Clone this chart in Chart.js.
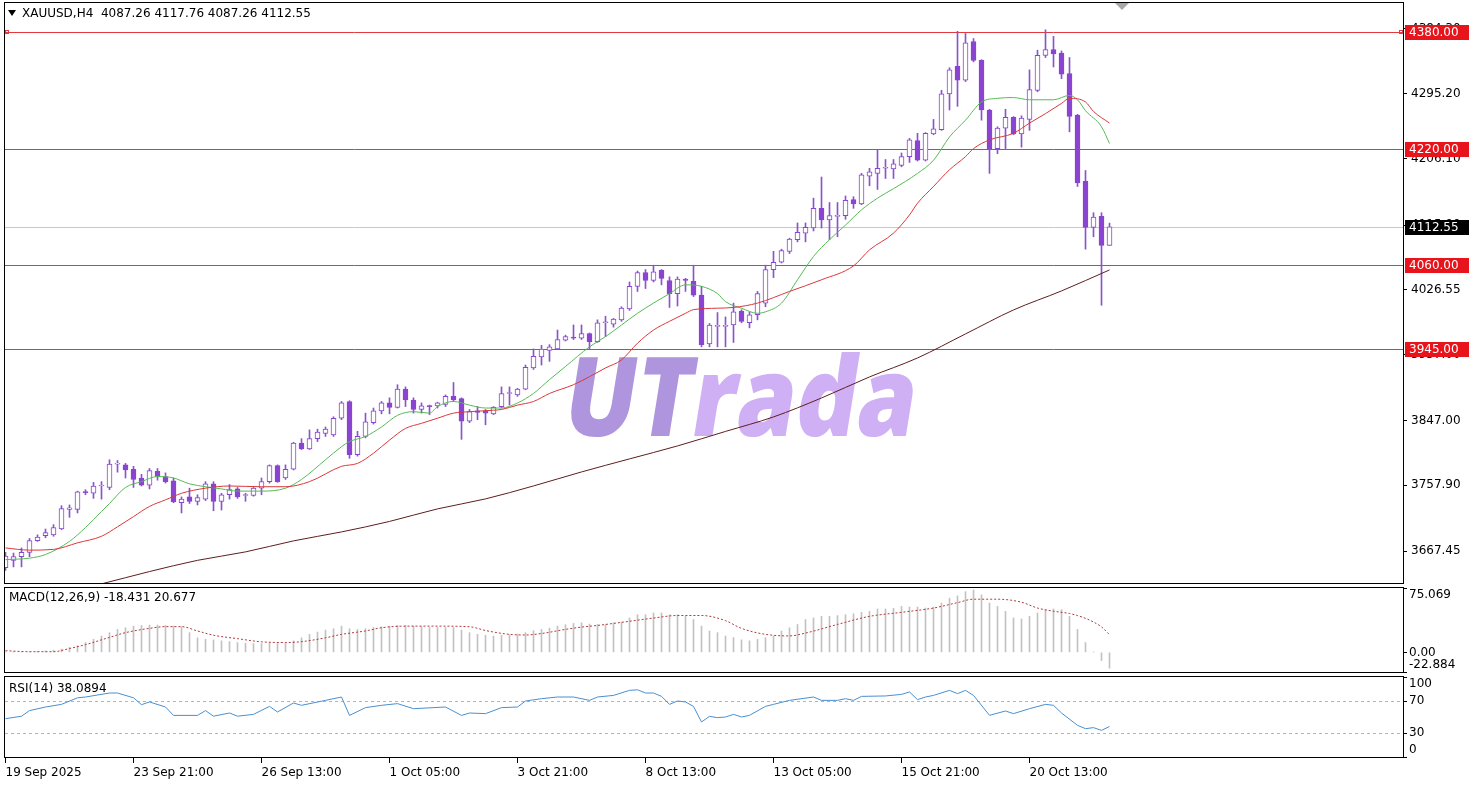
<!DOCTYPE html>
<html>
<head>
<meta charset="utf-8">
<script src="https://cdn.jsdelivr.net/npm/chart.js@4.4.1/dist/chart.umd.min.js"></script>
<style>
  html, body { margin: 0; padding: 0; background: #fff; }
  #wrap { position: relative; width: 1477px; height: 787px; overflow: hidden; background: #fff; }
  canvas { position: absolute; left: 0; }
  #mainChart { top: 0; }
  #macdChart { top: 585px; }
  #rsiChart { top: 675px; }
</style>
</head>
<body>
<div id="wrap">
  <canvas id="mainChart" width="1477" height="585"></canvas>
  <canvas id="macdChart" width="1477" height="90"></canvas>
  <canvas id="rsiChart" width="1477" height="112"></canvas>
</div>
<script>
const symbol = "XAUUSD,H4";

// H4 candles, 19 Sep 05:00 .. 22 Oct
const opens = [
  3645, 3655, 3660, 3666, 3682, 3689, 3690, 3698, 3725, 3725,
  3749, 3747, 3757, 3755, 3787, 3786, 3780, 3768, 3758, 3777,
  3770, 3764, 3734, 3742, 3736, 3739, 3760, 3736, 3745, 3753,
  3744, 3744, 3754, 3763, 3785, 3768, 3780, 3816, 3808, 3822,
  3829, 3827, 3850, 3873, 3800, 3825, 3844, 3860, 3871, 3865,
  3890, 3875, 3862, 3867, 3867, 3869, 3880, 3877, 3846, 3860,
  3860, 3856, 3866, 3884, 3882, 3890, 3919, 3934, 3943, 3945,
  3957, 3961, 3960, 3966, 3955, 3981, 3979, 3985, 4000, 4031,
  4050, 4039, 4053, 4039, 4021, 4041, 4038, 4019, 3952, 3976,
  3976, 3978, 3997, 3981, 3992, 4008, 4054, 4064, 4079, 4095,
  4104, 4111, 4138, 4122, 4127, 4128, 4150, 4144, 4182, 4186,
  4193, 4192, 4197, 4209, 4231, 4204, 4240, 4246, 4295, 4333,
  4314, 4367, 4341, 4273, 4220, 4248, 4263, 4240, 4260, 4300,
  4348, 4356, 4351, 4323, 4266, 4175, 4112, 4127, 4087.26
];
const highs = [
  3666, 3665, 3672, 3685, 3690, 3698, 3704, 3730, 3731, 3750,
  3752, 3762, 3763, 3793, 3792, 3788, 3784, 3773, 3781, 3781,
  3775, 3768, 3742, 3754, 3745, 3763, 3763, 3747, 3759, 3755,
  3747, 3755, 3768, 3786, 3786, 3786, 3817, 3822, 3834, 3835,
  3838, 3852, 3873, 3874, 3832, 3857, 3864, 3873, 3878, 3896,
  3893, 3878, 3871, 3868, 3872, 3882, 3899, 3878, 3862, 3866,
  3862, 3866, 3893, 3893, 3891, 3923, 3945, 3950, 3951, 3971,
  3964, 3978, 3978, 3967, 3985, 3990, 3987, 4003, 4037, 4052,
  4054, 4060, 4054, 4044, 4044, 4042, 4060, 4031, 3980, 3995,
  3989, 4008, 3999, 3996, 4024, 4060, 4079, 4082, 4097, 4118,
  4118, 4152, 4181, 4146, 4146, 4155, 4154, 4186, 4193, 4219,
  4205, 4205, 4214, 4234, 4241, 4242, 4260, 4300, 4331, 4381,
  4378, 4371, 4342, 4274, 4250, 4274, 4264, 4265, 4328, 4355,
  4383, 4374, 4354, 4345, 4267, 4190, 4132, 4132, 4117.76
];
const lows = [
  3641, 3646, 3646, 3660, 3681, 3686, 3688, 3697, 3714, 3720,
  3745, 3740, 3739, 3752, 3776, 3768, 3755, 3757, 3753, 3765,
  3761, 3734, 3720, 3733, 3731, 3737, 3723, 3724, 3739, 3740,
  3736, 3743, 3745, 3761, 3762, 3766, 3779, 3807, 3807, 3818,
  3825, 3825, 3848, 3795, 3798, 3823, 3842, 3856, 3856, 3864,
  3866, 3857, 3857, 3855, 3864, 3866, 3873, 3821, 3844, 3848,
  3841, 3855, 3864, 3868, 3880, 3889, 3917, 3923, 3928, 3944,
  3956, 3958, 3958, 3944, 3954, 3962, 3975, 3983, 3998, 4024,
  4028, 4037, 4033, 4002, 4004, 4024, 4017, 3948, 3948, 3948,
  3948, 3954, 3981, 3974, 3985, 4003, 4043, 4063, 4076, 4092,
  4092, 4107, 4111, 4095, 4099, 4123, 4138, 4143, 4169, 4164,
  4179, 4179, 4195, 4201, 4203, 4203, 4239, 4245, 4273, 4278,
  4312, 4339, 4259, 4186, 4213, 4220, 4239, 4222, 4245, 4298,
  4345, 4332, 4316, 4243, 4168, 4082, 4099, 4005, 4087.26
];
const closes = [
  3661, 3660, 3666, 3682, 3687, 3693, 3700, 3726, 3727, 3749,
  3748, 3757, 3758, 3787, 3788, 3779, 3766, 3758, 3778, 3770,
  3763, 3735, 3739, 3736, 3741, 3760, 3736, 3745, 3752, 3742,
  3745, 3754, 3763, 3785, 3763, 3780, 3816, 3808, 3822, 3831,
  3835, 3850, 3871, 3800, 3825, 3845, 3860, 3871, 3865, 3890,
  3875, 3862, 3867, 3866, 3871, 3880, 3875, 3846, 3859, 3858,
  3857, 3865, 3884, 3885, 3890, 3920, 3935, 3945, 3948, 3958,
  3962, 3960, 3966, 3955, 3981, 3982, 3986, 4001, 4031, 4050,
  4039, 4051, 4042, 4021, 4041, 4039, 4019, 3951, 3978, 3977,
  3977, 3996, 3983, 3992, 4021, 4054, 4064, 4080, 4096, 4105,
  4112, 4138, 4122, 4128, 4128, 4149, 4144, 4184, 4188, 4193,
  4194, 4199, 4209, 4232, 4204, 4241, 4247, 4295, 4328, 4314,
  4365, 4341, 4273, 4220, 4248, 4263, 4240, 4262, 4301, 4348,
  4356, 4350, 4322, 4264, 4173, 4112, 4126, 4087.26, 4112.55
];

// moving averages: [bar index, price]
const maFast = [
  [0, 3656], [3, 3658], [5, 3663], [8, 3681], [10, 3700], [12, 3722], [13, 3733],
  [15, 3755], [17, 3763], [19, 3770], [21, 3768], [23, 3760], [25, 3756], [27, 3753],
  [29, 3750], [32, 3750], [35, 3754], [37, 3766], [40, 3793], [42, 3811], [43, 3818],
  [45, 3825], [47, 3838], [49, 3854], [51, 3859], [53, 3857], [54, 3866], [56, 3873],
  [58, 3868], [60, 3864], [62, 3864], [64, 3871], [66, 3884], [68, 3903], [70, 3921],
  [73, 3948], [75, 3962], [77, 3978], [79, 3994], [81, 4008], [83, 4021], [85, 4033],
  [87, 4031], [89, 4021], [90, 4010], [92, 4001], [94, 3994], [95, 3996], [97, 4008],
  [99, 4040], [101, 4072], [103, 4095], [105, 4115], [107, 4136], [109, 4152], [111, 4165],
  [114, 4186], [116, 4204], [118, 4236], [120, 4259], [122, 4284], [124, 4289], [126, 4290],
  [128, 4287], [131, 4287], [133, 4293], [134, 4287], [135, 4272], [137, 4250], [138, 4227]
];
const maMid = [
  [0, 3672], [3, 3669], [6, 3670], [9, 3679], [12, 3688], [14, 3701], [16, 3715],
  [18, 3729], [20, 3738], [22, 3747], [25, 3754], [28, 3757], [32, 3756], [35, 3756],
  [38, 3763], [42, 3784], [44, 3788], [46, 3802], [48, 3820], [50, 3836], [52, 3843],
  [54, 3850], [56, 3857], [58, 3859], [61, 3861], [62, 3862], [64, 3868], [66, 3873],
  [68, 3884], [71, 3896], [73, 3907], [75, 3919], [77, 3930], [79, 3953], [81, 3971],
  [83, 3983], [85, 3994], [86, 3999], [89, 4001], [91, 4002], [94, 4008], [98, 4024],
  [102, 4040], [106, 4059], [108, 4081], [111, 4104], [113, 4129], [114, 4145], [116, 4168],
  [118, 4191], [120, 4209], [121, 4220], [123, 4232], [126, 4241], [128, 4255], [130, 4268],
  [132, 4282], [133, 4289], [135, 4284], [136, 4271], [138, 4255]
];
const maSlow = [
  [6, 3607], [12, 3622.7], [18, 3639.6], [24, 3655], [30, 3666.6], [36, 3681.7],
  [42, 3694], [48, 3708.4], [54, 3725.6], [60, 3739.3], [66, 3757.1], [72, 3776.3],
  [78, 3794.2], [84, 3812], [90, 3831.9], [96, 3851.8], [102, 3877.8], [108, 3906.7],
  [114, 3932.7], [120, 3965.7], [126, 3998.6], [132, 4024.7], [138, 4053.5]
];

const priceTicks = [4384.30, 4295.20, 4206.10, 4115.00, 4026.55, 3937.00, 3847.00, 3757.90, 3667.45];
const levels = [4380, 4220, 4060, 3945];

// MACD(12,26,9) main as histogram, one per bar
const macdMain = [
  0.4, 0.3, 0.5, 0.8, 1.2, 1.8, 2.6, 3.8, 5.7, 7.7,
  11.5, 15.3, 19, 23, 26.8, 28.7, 30.6, 31.4, 31.8, 31.8,
  31.4, 30.6, 29.9, 23, 17, 15.3, 14.5, 13.4, 12.6, 11.5,
  10.7, 10.3, 10.3, 10.7, 10.3, 10.7, 13.4, 17, 21, 23.7,
  26, 27.6, 30.6, 27.6, 26.8, 27.6, 29, 29.9, 30.6, 31.4,
  31.4, 30.6, 29.9, 29, 29, 29, 29, 26, 23, 21,
  20, 19, 20, 20.7, 21.4, 23, 25.3, 26.8, 28.3, 30.6,
  32.2, 33.7, 34.5, 33, 32.5, 32.5, 34.5, 35.2, 40.2, 44,
  44, 46, 46, 44, 44, 42, 38.3, 30.6, 24.9, 23,
  19, 17.2, 14.6, 13.4, 15.3, 17.2, 19, 24.9, 28.7, 32.5,
  38.3, 40.2, 42, 42, 42.9, 44, 45, 46.7, 47.9, 50.6,
  50.6, 51.3, 53.6, 52.9, 52.9, 51.7, 52.9, 57.5, 63.2, 65.9,
  70.8, 72.8, 67, 57.5, 53.6, 47.9, 40.2, 39, 42, 46,
  49.8, 50.6, 49.8, 42, 26.8, 11.5, 0.5, -9.6, -18.431
];
const macdSignal = [
  [0, 1.9], [3, 0.8], [6, 0.8], [8, 4.5], [10, 9], [13, 17.5], [15, 23], [18, 28],
  [20, 30], [22, 30], [24, 25], [26, 20], [29, 16], [32, 12.3], [35, 11.5], [37, 12.5],
  [40, 17], [42, 21], [45, 25], [47, 28.7], [50, 30.6], [54, 30.6], [58, 29.9], [60, 25.5],
  [63, 21], [65, 20.3], [67, 22], [70, 26.8], [72, 29.5], [74, 31.4], [77, 35], [81, 40],
  [84, 43], [87, 43], [90, 37], [92, 28], [95, 21], [98, 19.2], [100, 22.5], [104, 32.6],
  [108, 42], [112, 46.7], [116, 51.7], [119, 58], [121, 62], [124, 62], [127, 58.5],
  [129, 51.7], [131, 48], [133, 45.3], [134, 42.9], [135, 39.7], [136, 35.4], [137, 29.7],
  [138, 20.677]
];
const macdTicks = [75.069, 0, -22.884];
const macdTickLabels = ["75.069", "0.00", "-22.884"];

// RSI(14)
const rsiValues = [
  [0, 47.9], [2, 51], [3, 58], [5, 62.5], [7, 65.8], [9, 74], [10, 75], [13, 80], [14, 80],
  [16, 74], [17, 65.4], [18, 68.8], [20, 62.5], [21, 52], [24, 52], [25, 58], [26, 51],
  [28, 55], [29, 51], [31, 53.3], [33, 63.3], [34, 56.3], [36, 67.5], [37, 64.6], [40, 70.8],
  [42, 75], [43, 52], [45, 61.7], [47, 64.6], [49, 66.7], [51, 60.4], [55, 62.5], [57, 52],
  [58, 55], [60, 54.2], [62, 61.7], [64, 62.5], [65, 70], [67, 72.9], [69, 75], [71, 75],
  [73, 70.8], [74, 75], [76, 77], [78, 83.3], [79, 84], [80, 80], [81, 80], [82, 75.8],
  [83, 65.8], [84, 70], [85, 68.8], [86, 63.3], [87, 43.8], [88, 50.8], [89, 49.2], [90, 50],
  [91, 53.3], [92, 50], [93, 52.1], [95, 63.3], [96, 65.8], [98, 70.8], [101, 75], [102, 70.8],
  [104, 70.8], [105, 72.9], [106, 70.8], [107, 75.8], [110, 76.3], [112, 78.3], [113, 81.3],
  [114, 71.7], [115, 75], [116, 77], [118, 83.3], [119, 79.2], [120, 83.3], [121, 77],
  [123, 52.1], [125, 57.5], [126, 54.2], [128, 60.4], [130, 65.8], [131, 64.6], [132, 55],
  [134, 39.6], [135, 35.4], [136, 36.7], [137, 33.3], [138, 38.0894]
];
const rsiLevels = [70, 30];
const rsiTicks = [100, 70, 30, 0];

const xTickIdx = [0, 16, 32, 48, 64, 80, 96, 112, 128];
const xTickLabels = ["19 Sep 2025", "23 Sep 21:00", "26 Sep 13:00", "1 Oct 05:00", "3 Oct 21:00",
  "8 Oct 13:00", "13 Oct 05:00", "15 Oct 21:00", "20 Oct 13:00"];

// ---- look ----
Chart.defaults.font.family = "'DejaVu Sans', sans-serif";
Chart.defaults.font.size = 12;
Chart.defaults.color = "#000";

const N = closes.length;
const last = N - 1;
const X_MIN = -0.0625;
const X_MAX = X_MIN + 1398 / 8;
const AXIS_W = 74;
const PURPLE = "#8b43d1";
const WICK = "#8a55c9";

const pts = (arr) => arr.map(([x, y]) => ({ x, y }));
const fixY = (s) => { s.width = AXIS_W; s.paddingTop = 0; s.paddingBottom = 0; };

function edgeLabel(v, i, n, txt) {
  if (i === 0) return ["", txt];
  if (i === n - 1) return [txt, ""];
  return txt;
}

const hiddenX = { type: "linear", min: X_MIN, max: X_MAX, display: false, offset: false };

const panelFrame = {
  id: "panelFrame",
  afterDraw(chart) {
    const { ctx, chartArea: a } = chart;
    ctx.save();
    ctx.strokeStyle = "#000";
    ctx.lineWidth = 1;
    ctx.strokeRect(a.left - 0.5, a.top - 0.5, a.right - a.left + 1, a.bottom - a.top + 1);
    ctx.restore();
  },
};

function hLine(ctx, a, py, color, dash) {
  const yy = Math.round(py) + 0.5;
  ctx.strokeStyle = color;
  ctx.lineWidth = 1;
  ctx.setLineDash(dash || []);
  ctx.beginPath();
  ctx.moveTo(a.left, yy);
  ctx.lineTo(a.right, yy);
  ctx.stroke();
  ctx.setLineDash([]);
}

function priceBox(ctx, x, py, text, bg) {
  const yy = Math.round(py);
  ctx.fillStyle = bg;
  ctx.fillRect(x, yy - 7, 64, 15);
  ctx.fillStyle = "#fff";
  ctx.textAlign = "left";
  ctx.textBaseline = "middle";
  ctx.fillText(text, x + 4, yy + 1);
}

const mainOverlay = {
  id: "mainOverlay",
  beforeDatasetsDraw(chart) {
    const { ctx, chartArea: a, scales: { y } } = chart;
    ctx.save();
    ctx.beginPath();
    ctx.rect(a.left, a.top, a.right - a.left, a.bottom - a.top);
    ctx.clip();

    // watermark
    ctx.save();
    ctx.font = "800 92px 'Open Sans', sans-serif";
    ctx.textBaseline = "alphabetic";
    ctx.textAlign = "left";
    const w1 = ctx.measureText("UT").width;
    const w2 = ctx.measureText("rada").width;
    ctx.translate(560, 436);
    ctx.transform(1, 0, -0.16, 1, 0, 0);
    ctx.scale(352 / (w1 + w2), 1.2);
    ctx.fillStyle = "#ae95de";
    ctx.fillText("UT", 0, 0);
    ctx.fillStyle = "#d0b0f5";
    ctx.fillText("rada", w1, 0);
    ctx.restore();

    hLine(ctx, a, y.getPixelForValue(closes[last]), "#c8c8c8");
    levels.forEach((v) => hLine(ctx, a, y.getPixelForValue(v), "#e23a3e"));
    ctx.restore();
  },
  afterDraw(chart) {
    const { ctx, chartArea: a, scales: { y } } = chart;
    ctx.save();
    ctx.font = "12px 'DejaVu Sans', sans-serif";
    levels.forEach((v) => priceBox(ctx, a.right + 2, y.getPixelForValue(v), v.toFixed(2), "#e8141c"));
    priceBox(ctx, a.right + 2, y.getPixelForValue(closes[last]), closes[last].toFixed(2), "#000");

    // little squares at the ends of the top level
    const ty = Math.round(y.getPixelForValue(levels[0]));
    ctx.strokeStyle = "#e23a3e";
    ctx.strokeRect(a.left + 0.5, ty - 1.5, 3, 3);
    ctx.strokeRect(a.right - 3.5, ty - 1.5, 3, 3);

    // header
    ctx.fillStyle = "#000";
    ctx.beginPath();
    ctx.moveTo(8, 10); ctx.lineTo(16, 10); ctx.lineTo(12, 16); ctx.closePath();
    ctx.fill();
    ctx.textAlign = "left";
    ctx.textBaseline = "middle";
    const head = symbol + "  " + [opens[last], highs[last], lows[last], closes[last]].map((v) => v.toFixed(2)).join(" ");
    ctx.fillText(head, 22, 14);

    // shift marker
    ctx.fillStyle = "#a8a8a8";
    ctx.beginPath();
    ctx.moveTo(1115, 3); ctx.lineTo(1129, 3); ctx.lineTo(1122, 10); ctx.closePath();
    ctx.fill();
    ctx.restore();
  },
};

const macdOverlay = {
  id: "macdOverlay",
  afterDraw(chart) {
    const { ctx, chartArea: a } = chart;
    ctx.save();
    ctx.fillStyle = "#000";
    ctx.font = "12px 'DejaVu Sans', sans-serif";
    ctx.textBaseline = "middle";
    ctx.fillText("MACD(12,26,9) " + macdMain[last].toFixed(3) + " " + macdSignal[macdSignal.length - 1][1].toFixed(3), a.left + 4, a.top + 10);
    ctx.restore();
  },
};

const rsiOverlay = {
  id: "rsiOverlay",
  beforeDatasetsDraw(chart) {
    const { ctx, chartArea: a, scales: { y } } = chart;
    ctx.save();
    rsiLevels.forEach((v) => hLine(ctx, a, y.getPixelForValue(v), "#b4b4b4", [3, 3]));
    ctx.restore();
  },
  afterDraw(chart) {
    const { ctx, chartArea: a } = chart;
    ctx.save();
    ctx.fillStyle = "#000";
    ctx.font = "12px 'DejaVu Sans', sans-serif";
    ctx.textBaseline = "middle";
    ctx.fillText("RSI(14) " + rsiValues[rsiValues.length - 1][1].toFixed(4), a.left + 4, a.top + 12);
    ctx.restore();
  },
};

const common = {
  responsive: false,
  animation: false,
  devicePixelRatio: 1,
  events: [],
  plugins: { legend: { display: false }, tooltip: { enabled: false } },
};

// ---- main price panel ----
new Chart(document.getElementById("mainChart"), {
  type: "bar",
  data: {
    datasets: [
      {
        label: "wick",
        data: closes.map((_, i) => ({ x: i, y: [lows[i], highs[i]] })),
        backgroundColor: WICK,
        barThickness: 1,
        grouped: false,
        order: 2,
      },
      {
        label: "body",
        data: closes.map((c, i) => ({ x: i, y: [opens[i], c] })),
        backgroundColor: closes.map((c, i) => (c >= opens[i] ? "#ffffff" : PURPLE)),
        borderColor: PURPLE,
        borderWidth: 1,
        borderSkipped: false,
        barThickness: 5,
        minBarLength: 1,
        grouped: false,
        order: 1,
      },
      { type: "line", label: "slow", data: pts(maSlow), borderColor: "#5e1d1d", borderWidth: 1, pointRadius: 0, cubicInterpolationMode: "monotone", order: 0 },
      { type: "line", label: "mid", data: pts(maMid), borderColor: "#d8383c", borderWidth: 1, pointRadius: 0, cubicInterpolationMode: "monotone", order: 0 },
      { type: "line", label: "fast", data: pts(maFast), borderColor: "#58b858", borderWidth: 1, pointRadius: 0, cubicInterpolationMode: "monotone", order: 0 },
    ],
  },
  options: {
    ...common,
    layout: { padding: { left: 5, right: 0, top: 3, bottom: 2 } },
    scales: {
      x: hiddenX,
      y: {
        position: "right",
        min: 3623.9,
        max: 4419.8,
        afterBuildTicks: (s) => { s.ticks = priceTicks.map((v) => ({ value: v })); },
        afterFit: fixY,
        ticks: { autoSkip: false, padding: 4, callback: (v) => v.toFixed(2) },
        grid: { drawOnChartArea: false, tickLength: 4, tickColor: "#000" },
        border: { display: false },
      },
    },
  },
  plugins: [mainOverlay, panelFrame],
});

// ---- MACD panel ----
new Chart(document.getElementById("macdChart"), {
  type: "bar",
  data: {
    datasets: [
      {
        label: "macd",
        data: macdMain.map((v, i) => ({ x: i, y: v })),
        backgroundColor: "#c2c2c2",
        barThickness: 1,
        grouped: false,
        order: 1,
      },
      {
        type: "line",
        label: "signal",
        data: pts(macdSignal),
        borderColor: "#b03a3a",
        borderWidth: 1,
        borderDash: [2, 2],
        pointRadius: 0,
        cubicInterpolationMode: "monotone",
        order: 0,
      },
    ],
  },
  options: {
    ...common,
    layout: { padding: { left: 5, right: 0, top: 3, bottom: 3 } },
    scales: {
      x: hiddenX,
      y: {
        position: "right",
        min: macdTicks[2],
        max: macdTicks[0],
        afterBuildTicks: (s) => { s.ticks = macdTicks.map((v) => ({ value: v })); },
        afterFit: fixY,
        ticks: { autoSkip: false, padding: 2, callback: (v, i, t) => edgeLabel(v, i, t.length, macdTickLabels[i]) },
        grid: { drawOnChartArea: false, tickLength: 4, tickColor: "#000" },
        border: { display: false },
      },
    },
  },
  plugins: [macdOverlay, panelFrame],
});

// ---- RSI panel with the time axis ----
new Chart(document.getElementById("rsiChart"), {
  type: "line",
  data: {
    datasets: [
      {
        label: "rsi",
        data: pts(rsiValues),
        borderColor: "#4a8fcf",
        borderWidth: 1,
        pointRadius: 0,
        tension: 0,
      },
    ],
  },
  options: {
    ...common,
    layout: { padding: { left: 5, right: 0, top: 2, bottom: 2 } },
    scales: {
      x: {
        type: "linear",
        min: X_MIN,
        max: X_MAX,
        offset: false,
        afterBuildTicks: (s) => { s.ticks = xTickIdx.map((v) => ({ value: v })); },
        afterFit: (s) => { s.height = 28; s.paddingLeft = 0; s.paddingRight = 0; },
        ticks: { autoSkip: false, maxRotation: 0, minRotation: 0, align: "start", padding: 3, callback: (v, i) => xTickLabels[i] },
        grid: { drawOnChartArea: false, tickLength: 6, tickColor: "#000" },
        border: { display: false },
      },
      y: {
        position: "right",
        min: 0,
        max: 100,
        afterBuildTicks: (s) => { s.ticks = rsiTicks.map((v) => ({ value: v })); },
        afterFit: fixY,
        ticks: { autoSkip: false, padding: 2, callback: (v, i, t) => edgeLabel(v, i, t.length, String(v)) },
        grid: { drawOnChartArea: false, tickLength: 4, tickColor: "#000" },
        border: { display: false },
      },
    },
  },
  plugins: [rsiOverlay, panelFrame],
});
</script>
</body>
</html>
